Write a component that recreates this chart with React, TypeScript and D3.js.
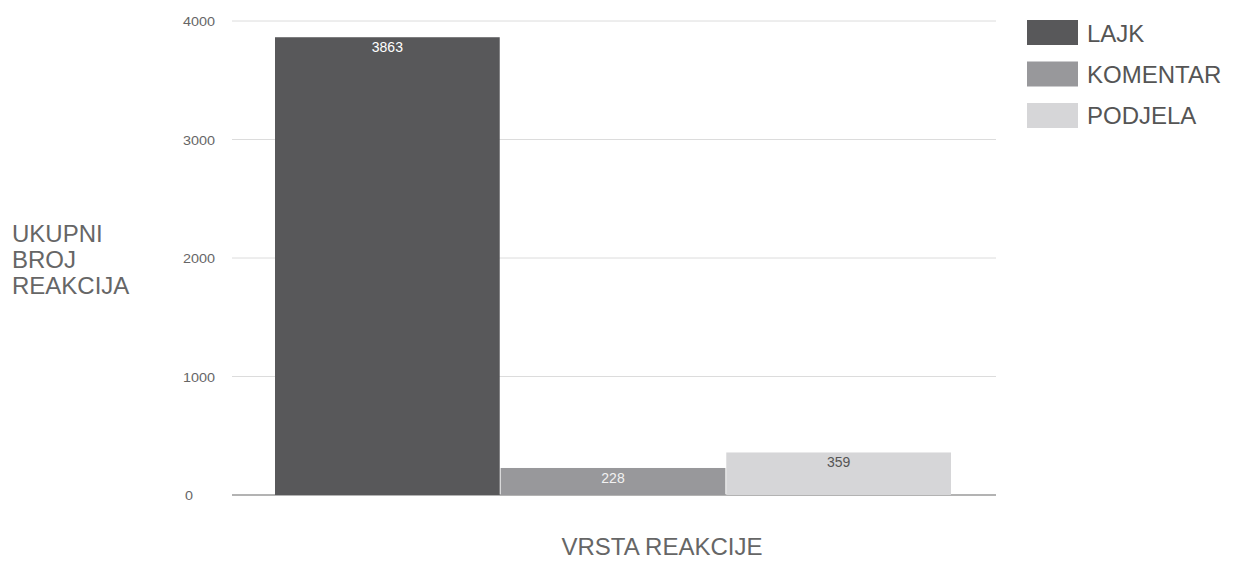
import React from "react";
import * as d3 from "d3";

const categories = ["LAJK", "KOMENTAR", "PODJELA"];
const values = [3863, 228, 359];
const colors = ["#58585a", "#98989b", "#d6d6d8"];
const labelColors = ["#ffffff", "#f2f2f2", "#555555"];
const yTicks = [0, 1000, 2000, 3000, 4000];
const yTitleLines = ["UKUPNI", "BROJ", "REAKCIJA"];
const xTitle = "VRSTA REAKCIJE";

export default function App() {
  const W = 1236, H = 561;
  const font = "Liberation Sans, Arial, sans-serif";
  const y = d3.scaleLinear().domain([0, 4000]).range([495, 21]);
  const x = d3.scaleBand().domain(categories).range([275, 951]).paddingInner(0.004).paddingOuter(0);
  return (
    <svg width={W} height={H} style={{ position: "absolute", left: 0, top: 0, background: "#fff" }} fontFamily={font}>
      {yTicks.map((t) => (
        <g key={t}>
          <line x1={232} x2={996} y1={y(t)} y2={y(t)} stroke={t === 0 ? "#9a9a9a" : "#dcdcdc"} strokeWidth={t === 0 ? 1.5 : 1} />
          <text x={t === 0 ? 185 : 183} y={y(t) + 5} fontSize={12} fill="#666"
            textLength={String(t).length * 8} lengthAdjust="spacingAndGlyphs">{t}</text>
        </g>
      ))}
      {categories.map((c, i) => (
        <g key={c}>
          <rect x={x(c)} y={y(values[i])} width={x.bandwidth()} height={y(0) - y(values[i])} fill={colors[i]} />
          <text x={(x(c) as number) + x.bandwidth() / 2} y={y(values[i]) + 15} textAnchor="middle" fontSize={14} fill={labelColors[i]}>{values[i]}</text>
        </g>
      ))}
      {categories.map((c, i) => (
        <g key={"lg" + c}>
          <rect x={1027} y={20 + i * 41.5} width={51} height={25} fill={colors[i]} />
          <text x={1087} y={42 + i * 41} fontSize={24} fill="#555">{c}</text>
        </g>
      ))}
      {yTitleLines.map((l, i) => (
        <text key={l} x={12} y={242 + i * 26} fontSize={24} fill="#666">{l}</text>
      ))}
      <text x={662} y={555} textAnchor="middle" fontSize={24} fill="#666">{xTitle}</text>
    </svg>
  );
}
